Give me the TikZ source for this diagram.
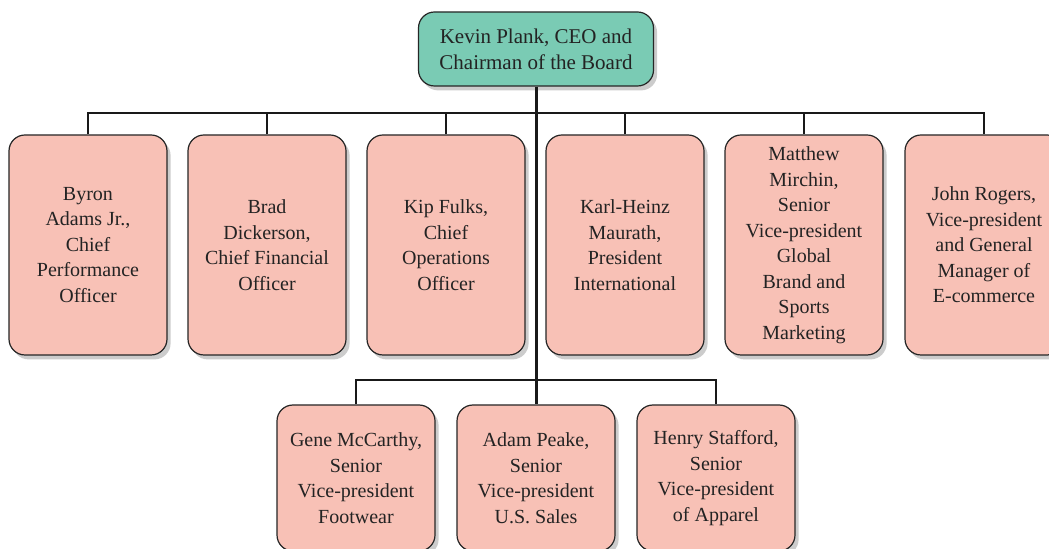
\documentclass[tikz,border=0pt]{standalone}
\usepackage{fontspec}
\setmainfont{Liberation Serif}
\usetikzlibrary{shadows}
\definecolor{pinkf}{RGB}{248,193,182}
\definecolor{tealf}{RGB}{122,203,180}
\definecolor{txt}{RGB}{35,35,35}
\begin{document}
\begin{tikzpicture}[x=0.5pt,y=-0.5pt,
  box/.style={draw=black!85, line width=0.6pt, rounded corners=8pt, align=center,
    text=txt, inner sep=0pt,
    drop shadow={shadow xshift=1.8pt, shadow yshift=-2.2pt, opacity=0.2, fill=black}},
  topbox/.style={box, fill=pinkf, minimum width=79pt, minimum height=110pt,
    font=\fontsize{10}{12.75}\selectfont},
  botbox/.style={box, fill=pinkf, minimum width=79pt, minimum height=73pt,
    font=\fontsize{10}{12.75}\selectfont},
  ceobox/.style={box, fill=tealf, minimum width=117.5pt, minimum height=37pt,
    font=\fontsize{10.5}{13}\selectfont},
  link/.style={draw=black!90, line width=1.1pt},
  trunk/.style={draw=black!90, line width=1.5pt}]
\useasboundingbox (0,0) rectangle (1049,549);
\clip (0,0) rectangle (1049,549);
\fill[white] (0,0) rectangle (1049,549);

\node[ceobox] (ceo) at (536,49) {Kevin Plank, CEO and\\Chairman of the Board};

\node[topbox] (t1) at (88,245) {Byron\\Adams Jr.,\\Chief\\Performance\\Officer};
\node[topbox] (t2) at (267,245) {Brad\\Dickerson,\\Chief Financial\\Officer};
\node[topbox] (t3) at (446,245) {Kip Fulks,\\Chief\\Operations\\Officer};
\node[topbox] (t4) at (625,245) {Karl-Heinz\\Maurath,\\President\\International};
\node[topbox] (t5) at (804,245) {Matthew\\Mirchin,\\Senior\\Vice-president\\Global\\Brand and\\Sports\\Marketing};
\node[topbox] (t6) at (984,245) {John Rogers,\\Vice-president\\and General\\Manager of\\E-commerce};

\node[botbox] (b1) at (356,478) {Gene McCarthy,\\Senior\\Vice-president\\Footwear};
\node[botbox] (b2) at (536,478) {Adam Peake,\\Senior\\Vice-president\\U.S. Sales};
\node[botbox] (b3) at (716,478) {Henry Stafford,\\Senior\\Vice-president\\of Apparel};

\coordinate (bus1) at (536,113);
\coordinate (bus2) at (536,380);

\foreach \n in {t1,t2,t3,t4,t5,t6}
  \draw[link] (\n.north) |- (bus1);
\foreach \n in {b1,b3}
  \draw[link] (\n.north) |- (bus2);
\draw[trunk] (ceo.south) -- (b2.north);
\end{tikzpicture}
\end{document}
